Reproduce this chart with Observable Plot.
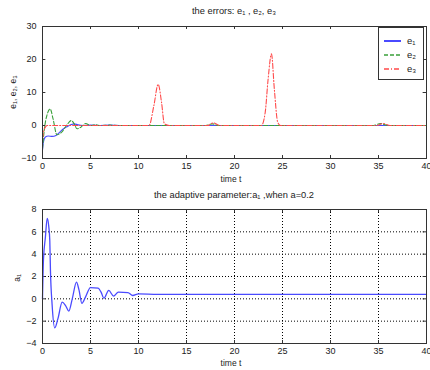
<!DOCTYPE html>
<html><head><meta charset="utf-8">
<script src="https://cdn.jsdelivr.net/npm/d3@7"></script>
<script src="https://cdn.jsdelivr.net/npm/@observablehq/plot@0.6"></script>
<style>
body{margin:0;background:#fff;font-family:"Liberation Sans",Arial,sans-serif;}
#wrap{position:relative;width:430px;height:370px;overflow:hidden;background:#fff}
.t{position:absolute;font-size:8.5px;color:#222;white-space:nowrap;transform:translate(-50%,-50%)}
.big{font-size:9.3px}
.r{transform:translate(-50%,-50%) rotate(-90deg)}
.p{position:absolute;left:0}
#legend{position:absolute;left:378px;top:27px;width:46px;height:53px;border:1px solid #333;background:#fff;box-sizing:border-box}
</style></head><body><div id="wrap"></div>
<script>
// ---- data ----
const e1T = [0,0.1,0.3,0.6,1.0,1.4,1.8,2.2,2.6,3.0,3.3,3.7,4.2,5,6,7,8,10,40];
const e1V = [-7.5,-5,-3.5,-3.2,-3.3,-3.0,-2.0,-1.0,-0.3,0.3,0.5,0.2,0,0.1,0,0.1,0,0,0];
const e2T = [0,0.2,0.5,0.8,1.1,1.5,2.0,2.5,3.0,3.3,3.6,4.0,4.5,5,5.5,6,7,8,17,17.7,18.3,34.5,35.2,36,40];
const e2V = [-7,-1,3.5,5,2,-2.8,-2,0,1.5,0.5,-1,-0.5,0.6,0,0.2,0,0.1,0,0,0.5,0,0,0.6,0,0];
const e3T = [0,0.2,0.5,1,2,3,5,10,11.1,11.6,12.05,12.4,12.7,13.2,17.2,17.8,18.5,22.8,23.2,23.5,23.85,24.15,24.5,24.8,34.8,35.5,36.2,40];
const e3V = [-4,-1,0,0,0,0,0,0,0,6,12.5,7,0.5,0,0,0.8,0,0,4,14,21.7,11,1,0,0,0.6,0,0];
const a1T = [0,0.1,0.3,0.49,0.65,0.76,0.83,1.0,1.28,1.6,2.05,2.4,2.74,3.1,3.54,3.8,4.1,4.5,4.99,5.8,6.1,6.4,6.9,7.4,7.9,8.9,9.4,10,12,40];
const a1V = [0,3.5,5.5,7.2,6.5,5.2,2.5,-0.5,-2.6,-1.8,-0.3,-0.6,-1.1,0,1.5,0.8,-0.4,0.2,1.0,0.95,0.6,0.05,0.75,0.25,0.6,0.55,0.3,0.45,0.4,0.4];
const xTicks = [0,5,10,15,20,25,30,35,40];
const topYTicks = [-10,0,10,20,30];
const botYTicks = [-4,-2,0,2,4,6,8];
const seriesNames = ["e\u2081","e\u2082","e\u2083"];
const colors = ["#4a4aff","#3aa03a","#ff4a4a"];
const dashes = [null,"4,2","5,2,1,2"];
const topTitle = "the errors: e\u2081 , e\u2082, e\u2083";
const botTitle = "the adaptive parameter:a\u2081 ,when a=0.2";
const xLabel = "time t";
const topYLabel = "e\u2081, e\u2082, e\u2083";
const botYLabel = "a\u2081";

const zip = (T,V,s) => T.map((t,i)=>({t, v:V[i], s}));
const errs = [zip(e1T,e1V,0), zip(e2T,e2V,1), zip(e3T,e3V,2)];
const a1 = zip(a1T,a1V,0);

const wrap = document.getElementById("wrap");
function txt(s,x,y,cls){const d=document.createElement("div");d.className="t "+(cls||"");d.textContent=s;d.style.left=x+"px";d.style.top=y+"px";wrap.appendChild(d);}
const style = {fontSize:"9px",fontFamily:"'Liberation Sans',Arial,sans-serif",color:"#222",background:"transparent"};

function inwardTicks(xd, yd, xt, yt, kx, ky){
  return [
    Plot.ruleX(xt,{x:d=>d,y1:yd[0],y2:yd[0]+ky,stroke:"#333"}),
    Plot.ruleX(xt,{x:d=>d,y1:yd[1],y2:yd[1]-ky,stroke:"#333"}),
    Plot.ruleY(yt,{y:d=>d,x1:xd[0],x2:xd[0]+kx,stroke:"#333"}),
    Plot.ruleY(yt,{y:d=>d,x1:xd[1],x2:xd[1]-kx,stroke:"#333"})
  ];
}

// ---- top panel ----
const p1 = Plot.plot({
  width:430,height:168,marginLeft:42,marginRight:4,marginTop:8,marginBottom:28,
  x:{domain:[0,40]}, y:{domain:[-10,30]}, style,
  marks:[
    ...inwardTicks([0,40],[-10,30],xTicks,topYTicks,0.35,0.9),
    ...errs.map((d,i)=>Plot.line(d,{x:"t",y:"v",stroke:colors[i],strokeWidth:1.1,strokeDasharray:dashes[i],curve:"monotone-x"})),
    Plot.frame({stroke:"#333"}),
    Plot.axisX({ticks:xTicks,tickSize:0,tickPadding:4,label:null}),
    Plot.axisY({ticks:topYTicks,tickSize:0,tickPadding:6,label:null})
  ]
});
p1.classList.add("p"); p1.style.top="18px"; wrap.appendChild(p1);

// ---- bottom panel ----
const gx = xTicks.slice(1,-1), gy = botYTicks.slice(1,-1);
const p2 = Plot.plot({
  width:430,height:170,marginLeft:42,marginRight:4,marginTop:9,marginBottom:27,
  x:{domain:[0,40]}, y:{domain:[-4,8]}, style,
  marks:[
    Plot.ruleX(gx,{x:d=>d,stroke:"#000",strokeDasharray:"1,2",strokeWidth:1}),
    Plot.ruleY(gy,{y:d=>d,stroke:"#000",strokeDasharray:"1,2",strokeWidth:1}),
    ...inwardTicks([0,40],[-4,8],xTicks,botYTicks,0.35,0.27),
    Plot.line(a1,{x:"t",y:"v",stroke:colors[0],strokeWidth:1.3,curve:"monotone-x"}),
    Plot.frame({stroke:"#333"}),
    Plot.axisX({ticks:xTicks,tickSize:0,tickPadding:4,label:null}),
    Plot.axisY({ticks:botYTicks,tickSize:0,tickPadding:6,label:null})
  ]
});
p2.classList.add("p"); p2.style.top="200px"; wrap.appendChild(p2);

// ---- texts ----
txt(topTitle,234,11,"big");
txt(xLabel,231,179);
txt(botTitle,234,195,"big");
txt(xLabel,231,363);
txt(topYLabel,13,92,"r");
txt(botYLabel,17,278,"r");

// ---- legend ----
const lg = document.createElement("div"); lg.id="legend";
const ns="http://www.w3.org/2000/svg";
const svg = document.createElementNS(ns,"svg"); svg.setAttribute("width","44"); svg.setAttribute("height","51");
seriesNames.forEach((n,i)=>{
  const y = 13 + i*14;
  const l = document.createElementNS(ns,"line");
  l.setAttribute("x1",5);l.setAttribute("x2",22);l.setAttribute("y1",y);l.setAttribute("y2",y);
  l.setAttribute("stroke",colors[i]);l.setAttribute("stroke-width",i===0?2:1.5);
  if(dashes[i]) l.setAttribute("stroke-dasharray",dashes[i]);
  svg.appendChild(l);
  const t = document.createElementNS(ns,"text");
  t.setAttribute("x",28);t.setAttribute("y",y+3);t.setAttribute("font-size","9.5");t.setAttribute("fill","#222");
  t.setAttribute("font-family","Liberation Sans, Arial, sans-serif");
  t.textContent=n; svg.appendChild(t);
});
lg.appendChild(svg); wrap.appendChild(lg);
</script></body></html>
